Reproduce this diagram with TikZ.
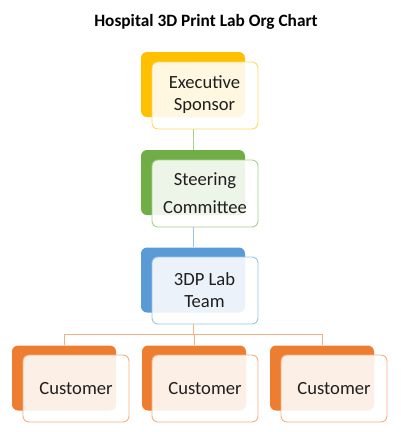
\documentclass[tikz,border=0pt]{standalone}
\usepackage{fontspec}
\setmainfont{Carlito}
\definecolor{yel}{RGB}{255,192,0}
\definecolor{yelL}{RGB}{255,217,102}
\definecolor{grn}{RGB}{112,173,71}
\definecolor{grnL}{RGB}{169,209,142}
\definecolor{blu}{RGB}{91,155,213}
\definecolor{bluL}{RGB}{157,195,230}
\definecolor{org}{RGB}{237,125,49}
\definecolor{orgL}{RGB}{244,177,131}
\begin{document}
\begin{tikzpicture}[x=1pt,y=-1pt,
  backbox/.style={draw=none,fill=#1,rounded corners=6pt,minimum width=104pt,minimum height=65pt,inner sep=0pt},
  frontbox/.style={draw=#1,line width=0.9pt,fill=white,fill opacity=0.88,text opacity=1,rounded corners=6pt,minimum width=106pt,minimum height=67pt,inner sep=0pt,align=center,font=\fontsize{18.6}{22}\selectfont,text=black!88},
  link/.style={draw=#1,line width=0.9pt}]
\useasboundingbox (0,0) rectangle (400,432);
\node[font=\bfseries\fontsize{17.3}{20}\selectfont,anchor=base,inner sep=0pt] (title) at (206,26) {Hospital 3D Print Lab Org Chart};
% executive
\node[backbox=yel] (eb) at (193,84.5) {};
\node[frontbox=yelL] (ef) at (205,95.5) {};
\node[align=center,font=\fontsize{18.6}{22}\selectfont,text=black!88] (et) at (204.5,95) {Executive\\Sponsor};
% steering
\node[backbox=grn] (sb) at (193,182.5) {};
\node[frontbox=grnL] (sf) at (205,193.5) {};
\node[align=center,font=\fontsize{18.6}{28}\selectfont,text=black!88] (st) at (205,193) {Steering\\Committee};
% lab
\node[backbox=blu] (lb) at (193,280) {};
\node[frontbox=bluL] (lf) at (205,290.5) {};
\node[align=center,font=\fontsize{18.6}{22}\selectfont,text=black!88] (lt) at (204.5,290) {3DP Lab\\Team};
% customers
\node[backbox=org] (c1b) at (64,378) {};
\node[frontbox=orgL] (c1f) at (76,388.5) {Customer};
\node[backbox=org] (c2b) at (194,378) {};
\node[frontbox=orgL] (c2f) at (205,388.5) {Customer};
\node[backbox=org] (c3b) at (322,378) {};
\node[frontbox=orgL] (c3f) at (334,388.5) {Customer};
% connectors
\draw[link=grnL] (eb.south |- ef.south) -- (sb.north);
\draw[link=bluL] (sb.south |- sf.south) -- (lb.north);
\coordinate (bar) at (193,334);
\draw[link=orgL] (lb.south |- lf.south) -- (lb.south |- bar);
\draw[link=orgL] (c1b.north) -- (c1b.north |- bar) -- (c3b.north |- bar) -- (c3b.north);
\draw[link=orgL] (c2b.north |- bar) -- (c2b.north);
\end{tikzpicture}
\end{document}
